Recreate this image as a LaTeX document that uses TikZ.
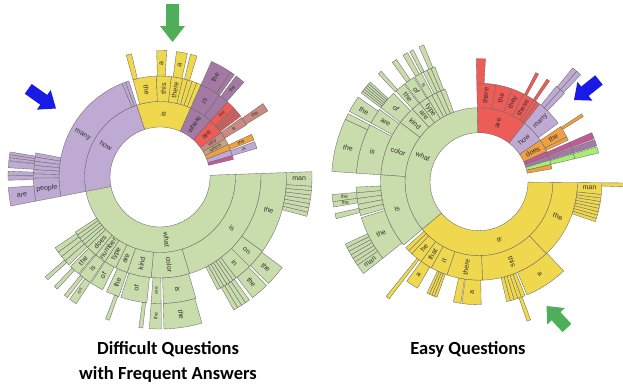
\documentclass[tikz,border=0pt]{standalone}
\usepackage{fontspec}
\newfontfamily\labfont{Liberation Sans}
\newfontfamily\ttlfont{Carlito}
\definecolor{cG}{HTML}{C9DCAC}
\definecolor{cY}{HTML}{EFD84E}
\definecolor{cP}{HTML}{BFAAD3}
\definecolor{cM}{HTML}{A47AA4}
\definecolor{cR}{HTML}{EE5C58}
\definecolor{cRB}{HTML}{C98A82}
\definecolor{cT}{HTML}{C4A47C}
\definecolor{cO}{HTML}{F0A043}
\definecolor{cMg}{HTML}{C05A98}
\definecolor{cLG}{HTML}{A8EC72}
\definecolor{edgecol}{HTML}{6A6A6A}
\definecolor{labcol}{HTML}{303030}
\definecolor{arrG}{HTML}{4FAE5A}
\definecolor{arrB}{HTML}{1A1AE6}
\newcounter{lc}
\newcommand\sm{\fontsize{5}{5.5}\selectfont}
\tikzset{
  seg/.style={draw=edgecol,line width=0.35pt,line join=round},
  lbl/.style={font=\labfont\fontsize{7}{7.5}\selectfont,text=labcol,inner sep=0pt},
  ttl/.style={font=\ttlfont\bfseries\fontsize{18.5}{20}\selectfont,text=black,inner sep=0pt}
}
\newcommand\segr[6]{%
  \pgfmathsetmacro\segma{(#1+#2)/2}%
  \pgfmathsetmacro\segmr{(#3+#4)/2}%
  \pgfmathsetmacro\segrt{cos(\segma)>0 ? \segma : \segma+180}%
  \filldraw[seg,fill=#5] (#1:#3pt) arc[start angle=#1,end angle=#2,radius=#3pt]
     -- (#2:#4pt) arc[start angle=#2,end angle=#1,radius=#4pt] -- cycle;
  \if\relax\detokenize{#6}\relax\else
    \stepcounter{lc}%
    \node[lbl,rotate=\segrt] (lab\arabic{lc}) at (\segma:\segmr pt) {#6};
  \fi
}
\newcommand\subs[6]{%
  \pgfmathsetmacro\subw{(#2-#1)/#5}%
  \foreach \k in {1,...,#5}{%
    \pgfmathsetmacro\suba{#1+(\k-1)*\subw}%
    \pgfmathsetmacro\subb{#1+\k*\subw}%
    \segr{\suba}{\subb}{#3}{#4}{#6}{}}%
}
\newcommand\fatarrow[8]{%
  \begin{scope}[shift={(#1,#2)},rotate=#3]
    \fill[#8] (0,0) -- (-#5,#6) -- (-#5,#7) -- (-#4,#7) -- (-#4,-#7) -- (-#5,-#7) -- (-#5,-#6) -- cycle;
  \end{scope}
}
\begin{document}
\begin{tikzpicture}[x=1pt,y=1pt]
\useasboundingbox (0,0) rectangle (623,-386);
% ================= LEFT CHART =================
\begin{scope}[shift={(160,-177)}]
\def\Ra{50}\def\Rb{75.5}\def\Rc{101}\def\Rd{126.5}\def\Re{152}
% ring 1
\segr{-170}{2}{\Ra}{\Rb}{cG}{what}
\segr{66}{108}{\Ra}{\Rb}{cY}{is}
\segr{108}{191}{\Ra}{\Rb}{cP}{how}
\segr{48}{66}{\Ra}{\Rb}{cM}{where}
\segr{36}{48}{\Ra}{\Rb}{cR}{are}
\segr{30.5}{36}{\Ra}{\Rb}{cRB}{\sm why}
\segr{25.5}{30.5}{\Ra}{\Rb}{cT}{\sm which}
\segr{21}{25.5}{\Ra}{\Rb}{cO}{}
\segr{16.5}{21}{\Ra}{\Rb}{cP}{}
\segr{13.5}{16.5}{\Ra}{\Rb}{cMg}{}
% ring 2
\segr{92}{105.5}{\Rb}{\Rc}{cY}{the}
\segr{83.5}{92}{\Rb}{\Rc}{cY}{this}
\segr{77}{83.5}{\Rb}{\Rc}{cY}{there}
\subs{66}{77}{\Rb}{\Rc}{4}{cY}
\subs{108}{112}{\Rb}{\Rc}{2}{cP}
\segr{112}{191}{\Rb}{\Rc}{cP}{many}
\segr{54}{66}{\Rb}{\Rc}{cM}{is}
\segr{48}{54}{\Rb}{\Rc}{cM}{}
\segr{43}{48}{\Rb}{\Rc}{cR}{\sm the}
\subs{37}{43}{\Rb}{\Rc}{5}{cR}
\segr{31}{36}{\Rb}{\Rc}{cRB}{\sm is}
\segr{21.5}{25}{\Rb}{\Rc}{cO}{\sm the}
\segr{16.5}{20.5}{\Rb}{\Rc}{cP}{\sm is}
\segr{-73}{2}{\Rb}{\Rc}{cG}{is}
\segr{-95}{-73}{\Rb}{\Rc}{cG}{color}
\segr{-109}{-95}{\Rb}{\Rc}{cG}{kind}
\segr{-116}{-109}{\Rb}{\Rc}{cG}{are}
\segr{-123}{-116}{\Rb}{\Rc}{cG}{type}
\segr{-129.5}{-123}{\Rb}{\Rc}{cG}{number}
\segr{-136}{-129.5}{\Rb}{\Rc}{cG}{does}
\subs{-147}{-136}{\Rb}{\Rc}{5}{cG}
% ring 3
\segr{103}{105.5}{\Rc}{\Rd}{cY}{}
\segr{87}{91.5}{\Rc}{\Rd}{cY}{a}
\segr{77.5}{82.5}{\Rc}{\Rd}{cY}{a}
\segr{73}{76}{\Rc}{\Rd}{cY}{}
\subs{169}{180.5}{\Rc}{\Rd}{6}{cP}
\segr{180.5}{191}{\Rc}{\Rd}{cP}{people}
\segr{56}{66}{\Rc}{\Rd}{cM}{the}
\segr{54}{56}{\Rc}{\Rd}{cM}{}
\segr{48.5}{53}{\Rc}{\Rd}{cM}{\sm the}
\segr{31.5}{35.5}{\Rc}{\Rd}{cRB}{\sm the}
\segr{-36}{2}{\Rc}{\Rd}{cG}{the}
\segr{-45}{-36}{\Rc}{\Rd}{cG}{on}
\segr{-53}{-45}{\Rc}{\Rd}{cG}{in}
\subs{-63}{-53}{\Rc}{\Rd}{6}{cG}
\segr{-88.5}{-73.5}{\Rc}{\Rd}{cG}{is}
\segr{-94}{-89.5}{\Rc}{\Rd}{cG}{\sm are}
\segr{-108}{-96}{\Rc}{\Rd}{cG}{of}
\segr{-115}{-109}{\Rc}{\Rd}{cG}{the}
\segr{-123}{-117}{\Rc}{\Rd}{cG}{of}
\segr{-129.5}{-123.5}{\Rc}{\Rd}{cG}{is}
\segr{-135}{-130}{\Rc}{\Rd}{cG}{the}
\subs{-146}{-136}{\Rc}{\Rd}{4}{cG}
% ring 4
\subs{170.5}{173.8}{\Rd}{\Re}{3}{cP}
\segr{174}{176.5}{\Rd}{\Re}{cP}{}
\subs{177.8}{181.2}{\Rd}{\Re}{2}{cP}
\segr{184}{191}{\Rd}{\Re}{cP}{are}
\segr{-3.5}{2}{\Rd}{\Re}{cG}{man}
\subs{-15}{-3.5}{\Rd}{\Re}{7}{cG}
\segr{-44.5}{-36.5}{\Rd}{\Re}{cG}{the}
\segr{-52.5}{-45.5}{\Rd}{\Re}{cG}{the}
\subs{-61}{-54}{\Rd}{\Re}{4}{cG}
\segr{-94}{-89.5}{\Rd}{\Re}{cG}{\sm the}
\segr{-88.5}{-74}{\Rd}{\Re}{cG}{the}
\segr{-98}{-96.5}{\Rd}{\Re}{cG}{}
\segr{-111}{-109.5}{\Rd}{\Re}{cG}{}
\segr{-126.5}{-123.5}{\Rd}{\Re}{cG}{\sm on}
\segr{-129}{-127.5}{\Rd}{\Re}{cG}{}
\segr{-134}{-132.5}{\Rd}{\Re}{cG}{}
\segr{-139}{-137.5}{\Rd}{\Re}{cG}{}
\end{scope}
% ================= RIGHT CHART =================
\begin{scope}[shift={(479,-181.7)}]
\def\Ra{49}\def\Rb{74}\def\Rc{98.5}\def\Rd{123}\def\Re{147.5}
% ring 1
\segr{91.3}{220}{\Ra}{\Rb}{cG}{what}
\segr{220}{359.5}{\Ra}{\Rb}{cY}{is}
\segr{52}{91.3}{\Ra}{\Rb}{cR}{are}
\segr{34}{52}{\Ra}{\Rb}{cP}{how}
\segr{24}{34}{\Ra}{\Rb}{cO}{does}
\segr{20.5}{24}{\Ra}{\Rb}{cMg}{}
\segr{17}{20.5}{\Ra}{\Rb}{cM}{}
\segr{13.5}{17}{\Ra}{\Rb}{cLG}{}
\segr{10}{13.5}{\Ra}{\Rb}{cO}{}
% ring 2
\segr{80}{91.3}{\Rb}{\Rc}{cR}{there}
\segr{70.5}{80}{\Rb}{\Rc}{cR}{the}
\segr{63}{70.5}{\Rb}{\Rc}{cR}{they}
\segr{56}{63}{\Rb}{\Rc}{cR}{these}
\subs{52}{56}{\Rb}{\Rc}{2}{cR}
\segr{36.5}{52}{\Rb}{\Rc}{cP}{many}
\segr{27}{34}{\Rb}{\Rc}{cO}{the}
\segr{25}{27}{\Rb}{\Rc}{cO}{}
\segr{20.5}{23.5}{\Rb}{\Rc}{cMg}{}
\segr{17}{20}{\Rb}{\Rc}{cM}{}
\segr{13.5}{16.5}{\Rb}{\Rc}{cLG}{}
\segr{143}{176}{\Rb}{\Rc}{cG}{color}
\segr{132.5}{143}{\Rb}{\Rc}{cG}{kind}
\segr{127}{132.5}{\Rb}{\Rc}{cG}{are}
\segr{121.5}{127}{\Rb}{\Rc}{cG}{type}
\subs{110}{121.5}{\Rb}{\Rc}{4}{cG}
\segr{176}{220}{\Rb}{\Rc}{cG}{is}
\segr{-47}{-0.5}{\Rb}{\Rc}{cY}{the}
\segr{-88}{-47}{\Rb}{\Rc}{cY}{this}
\segr{-109}{-88}{\Rb}{\Rc}{cY}{there}
\segr{-119}{-109}{\Rb}{\Rc}{cY}{it}
\segr{-126}{-119}{\Rb}{\Rc}{cY}{that}
\segr{-133}{-126}{\Rb}{\Rc}{cY}{he}
\subs{-138}{-133}{\Rb}{\Rc}{2}{cY}
% ring 3
\segr{87}{91.3}{\Rc}{\Rd}{cR}{}
\segr{61}{62.5}{\Rc}{\Rd}{cR}{}
\segr{55}{56.5}{\Rc}{\Rd}{cR}{}
\subs{46}{51}{\Rc}{\Rd}{2}{cP}
\segr{32}{33.5}{\Rc}{\Rd}{cO}{}
\segr{20.5}{23.5}{\Rc}{\Rd}{cMg}{}
\segr{17}{20}{\Rc}{\Rd}{cM}{}
\segr{13.5}{16.5}{\Rc}{\Rd}{cLG}{}
\segr{197}{218.5}{\Rc}{\Rd}{cG}{the}
\subs{182.5}{196}{\Rc}{\Rd}{5}{cG}
\segr{152.5}{176}{\Rc}{\Rd}{cG}{is}
\segr{144}{151.5}{\Rc}{\Rd}{cG}{are}
\segr{134}{143}{\Rc}{\Rd}{cG}{of}
\segr{127.5}{132.5}{\Rc}{\Rd}{cG}{the}
\segr{122}{127}{\Rc}{\Rd}{cG}{of}
\segr{118}{121.5}{\Rc}{\Rd}{cG}{\sm is}
\subs{111}{117}{\Rc}{\Rd}{3}{cG}
\segr{-6}{-0.5}{\Rc}{\Rd}{cY}{man}
\subs{-19}{-6}{\Rc}{\Rd}{8}{cY}
\segr{-67}{-46.5}{\Rc}{\Rd}{cY}{a}
\subs{-77}{-68}{\Rc}{\Rd}{5}{cY}
\segr{-98}{-89}{\Rc}{\Rd}{cY}{a}
\segr{-102}{-98.5}{\Rc}{\Rd}{cY}{}
\subs{-115}{-110}{\Rc}{\Rd}{4}{cY}
\segr{-126}{-120}{\Rc}{\Rd}{cY}{a}
\segr{-129}{-127.5}{\Rc}{\Re}{cY}{}
% ring 4
\subs{46.5}{50.5}{\Rd}{\Re}{2}{cP}
\segr{155}{176}{\Rd}{\Re}{cG}{the}
\segr{152.5}{155}{\Rd}{\Re}{cG}{}
\segr{145}{151.5}{\Rd}{\Re}{cG}{the}
\subs{137.5}{143}{\Rd}{\Re}{6}{cG}
\segr{131.5}{133}{\Rd}{\Re}{cG}{}
\segr{124}{126}{\Rd}{\Re}{cG}{}
\segr{119}{121}{\Rd}{\Re}{cG}{}
\segr{116.5}{118}{\Rd}{\Re}{cG}{}
\segr{112}{114}{\Rd}{\Re}{cG}{}
\segr{185}{187.8}{\Rd}{\Re}{cG}{\sm the}
\segr{187.8}{189.9}{\Rd}{\Re}{cG}{\sm the}
\segr{192.5}{194.5}{\Rd}{\Re}{cG}{}
\subs{205}{214.5}{\Rd}{\Re}{6}{cG}
\segr{214.5}{218.5}{\Rd}{\Re}{cG}{man}
\segr{-2}{-0.5}{\Rd}{\Re}{cY}{}
\segr{-71}{-69.5}{\Rd}{\Re}{cY}{}
\end{scope}
% ================= ARROWS =================
\fatarrow{172.5}{-42}{-90}{38}{16}{12.5}{6.5}{arrG}
\fatarrow{56}{-108.5}{-35.3}{34}{15}{12}{6}{arrB}
\fatarrow{574}{-100}{218.7}{32}{14}{12}{6}{arrB}
\fatarrow{546.5}{-306}{133}{30}{14}{12}{6}{arrG}
% ================= TITLES =================
\node[ttl,anchor=base] (t1) at (168,-354) {Difficult Questions};
\node[ttl,anchor=base] (t2) at (168,-379) {with Frequent Answers};
\node[ttl,anchor=base] (t3) at (468,-354) {Easy Questions};
\end{tikzpicture}
\end{document}
